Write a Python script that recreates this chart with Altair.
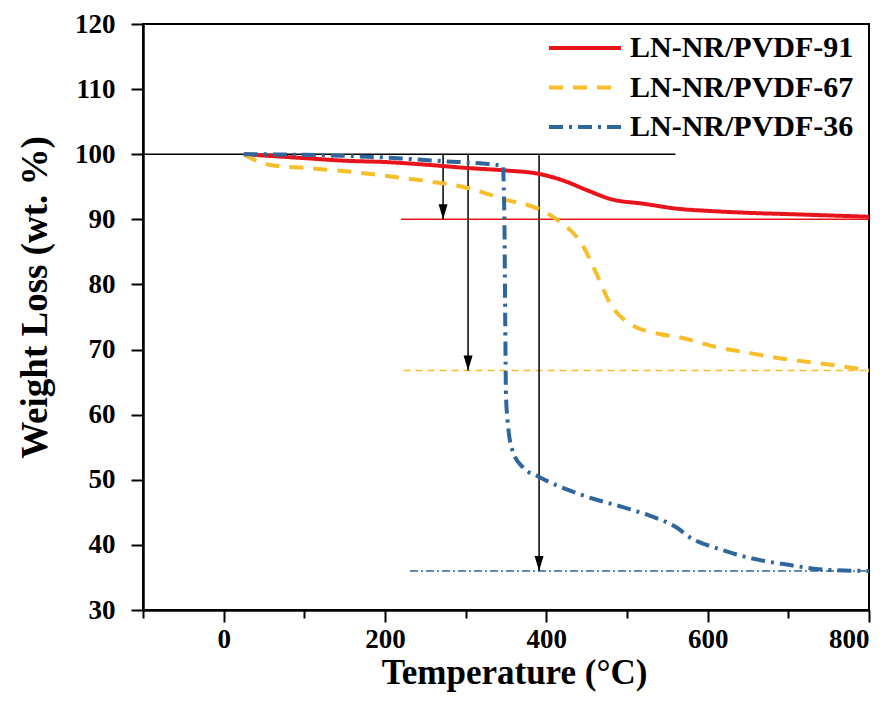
import altair as alt
import pandas as pd

series_names = ["LN-NR/PVDF-91", "LN-NR/PVDF-67", "LN-NR/PVDF-36"]
series_colors = ["#E8141C", "#F7BE2A", "#2F669B"]
series_dashes = [[1, 0], [14, 10], [14, 6, 3, 6]]

t91 = [25, 50, 100, 150, 200, 250, 300, 350, 390, 420, 450, 480, 520, 565, 600, 650, 700, 750, 800]
w91 = [100, 99.8, 99.4, 99.0, 98.8, 98.4, 97.9, 97.5, 97.0, 96.0, 94.5, 93.1, 92.4, 91.6, 91.3, 91.0, 90.8, 90.6, 90.4]

t67 = [25, 35, 60, 100, 150, 200, 250, 300, 350, 390, 415, 445, 462, 479, 503, 540, 565, 610, 650, 693, 750, 800]
w67 = [100, 99.3, 98.3, 97.9, 97.4, 96.7, 95.9, 94.9, 93.0, 91.6, 89.8, 86.0, 81.7, 77.1, 74.0, 72.4, 71.9, 70.4, 69.5, 68.6, 67.7, 66.8]

t36 = [25, 100, 200, 276, 318, 346, 348, 349, 350, 352, 358, 371, 390, 441, 503, 528, 561, 580, 611, 652, 702, 743, 800]
w36 = [100, 99.9, 99.5, 98.9, 98.6, 98.2, 90, 75, 63, 59, 54.5, 51.9, 50.5, 47.8, 45.5, 44.5, 42.7, 41.0, 39.5, 38.0, 36.9, 36.2, 36.0]

# residual-weight guide lines and arrows
ref_levels = [90.0, 66.8, 36.0]
ref_starts = [220, 223, 231]
ref_end = 800
ref_dashes = [[1, 0], [7, 5], [8, 3, 2, 3]]
base_level = 100
base_x = [-100, 560]
arrow_x = [272, 303, 391]

x_ticks = list(range(-100, 801, 100))
y_ticks = list(range(30, 121, 5))

rows = []
for name, ts, ws in zip(series_names, [t91, t67, t36], [w91, w67, w36]):
    for t, w in zip(ts, ws):
        rows.append({"series": name, "T": t, "W": w})
curves = pd.DataFrame(rows)

FONT = "Liberation Serif"

x_scale = alt.Scale(domain=[-100, 800], nice=False)
y_scale = alt.Scale(domain=[30, 120], nice=False)

x_axis = alt.Axis(
    title="Temperature (°C)",
    values=x_ticks,
    labelExpr="(datum.value >= 0 && datum.value % 200 === 0) ? datum.label : ''",
    tickSize={"condition": {"test": "datum.value % 200 === 0", "value": 12}, "value": 8},
    labelPadding=4,
    titlePadding=3,
    titleFontSize=35,
    titleX=371,
    grid=False,
)
y_axis = alt.Axis(
    title="Weight Loss (wt. %)",
    values=y_ticks,
    labelExpr="(datum.value % 10 === 0) ? datum.label : ''",
    tickSize={"condition": {"test": "datum.value % 10 === 0", "value": 12}, "value": 8},
    labelPadding=16,
    titlePadding=20,
    titleFontSize=37,
    titleY=273,
    grid=False,
)

lines = alt.Chart(curves).mark_line(strokeWidth=4, interpolate="monotone").encode(
    x=alt.X("T:Q", scale=x_scale, axis=x_axis),
    y=alt.Y("W:Q", scale=y_scale, axis=y_axis),
    color=alt.Color("series:N", scale=alt.Scale(domain=series_names, range=series_colors),
                    sort=series_names, title=None),
    strokeDash=alt.StrokeDash("series:N", scale=alt.Scale(domain=series_names, range=series_dashes),
                              sort=series_names, title=None),
    order=alt.Order("T:Q"),
)

layers = []

base_df = pd.DataFrame({"x": [base_x[0]], "x2": [base_x[1]], "y": [base_level]})
layers.append(alt.Chart(base_df).mark_rule(color="black", strokeWidth=1.5).encode(
    x=alt.X("x:Q", scale=x_scale), x2="x2:Q", y=alt.Y("y:Q", scale=y_scale)))

for lvl, st, col, dash in zip(ref_levels, ref_starts, series_colors, ref_dashes):
    df = pd.DataFrame({"x": [st], "x2": [ref_end], "y": [lvl]})
    layers.append(alt.Chart(df).mark_rule(color=col, strokeWidth=1.5, strokeDash=dash).encode(
        x=alt.X("x:Q", scale=x_scale), x2="x2:Q", y=alt.Y("y:Q", scale=y_scale)))

arrows = pd.DataFrame({"x": arrow_x, "y": [base_level] * 3, "y2": ref_levels})
layers.append(alt.Chart(arrows).mark_rule(color="black", strokeWidth=1.5).encode(
    x=alt.X("x:Q", scale=x_scale), y=alt.Y("y:Q", scale=y_scale), y2="y2:Q"))
layers.append(alt.Chart(arrows).mark_point(
    shape="M-0.9,-3L0.9,-3L0,0Z", size=100, filled=True, color="black", opacity=1
).encode(x=alt.X("x:Q", scale=x_scale), y=alt.Y("y2:Q", scale=y_scale)))

chart = alt.layer(*layers, lines).properties(
    width=726, height=586,
    autosize=alt.AutoSizeParams(type="none"),
    padding={"left": 135, "top": 16, "right": 19, "bottom": 104},
).configure_view(
    stroke="black", strokeWidth=2
).configure_axis(
    labelFont=FONT, labelFontWeight="bold", labelFontSize=27, labelColor="black",
    titleFont=FONT, titleFontWeight="bold", titleColor="black",
    domainColor="black", domainWidth=2.5, tickColor="black", tickWidth=2,
).configure_legend(
    orient="none", legendX=427, legendY=9, padding=0,
    symbolType="M-6,0H6", symbolSize=144, symbolStrokeWidth=4,
    labelFont=FONT, labelFontWeight="bold", labelFontSize=30, labelColor="black",
    labelOffset=30, rowPadding=9.5, labelLimit=400,
)

chart.save("out.html", embed_options={"renderer": "svg", "actions": False})
